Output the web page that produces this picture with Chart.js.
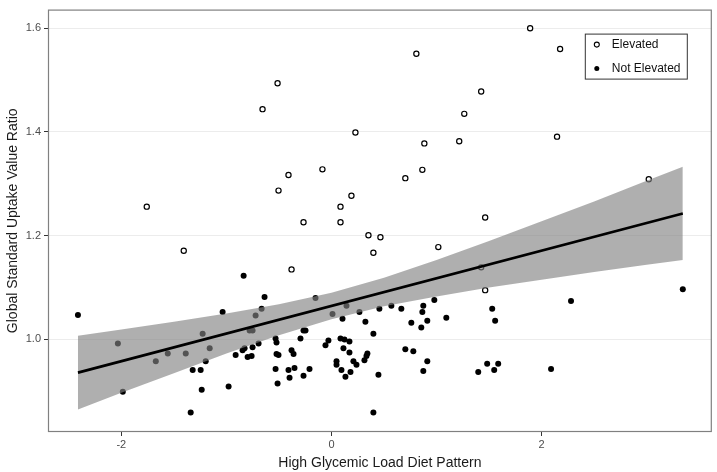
<!DOCTYPE html>
<html>
<head>
<meta charset="utf-8">
<script src="https://cdn.jsdelivr.net/npm/chart.js@4"></script>
<style>
  html, body { margin: 0; padding: 0; background: #fff; }
  #wrap { width: 717px; height: 472px; }
</style>
</head>
<body>
<div id="wrap"><canvas id="suvrChart"></canvas></div>
<script>
// Elevated SUVR (open circles)
var elevatedX = [-0.513, -0.656, 0.228, -0.409, -0.086, -0.504, 0.190, 0.086, -1.758, -0.266, 0.086,
    1.891, 2.176, 0.808, 1.425, 1.264, 0.884, 1.216, 2.147, 0.865, 0.703, 3.020, 1.463,
    0.352, 0.466, 0.399, 1.017, -1.406, -0.380, 1.425, 1.463];
var elevatedY = [1.494, 1.444, 1.399, 1.317, 1.328, 1.287, 1.277, 1.256, 1.256, 1.226, 1.226,
    1.600, 1.560, 1.551, 1.478, 1.435, 1.378, 1.382, 1.391, 1.327, 1.311, 1.309, 1.235,
    1.201, 1.197, 1.167, 1.178, 1.171, 1.135, 1.139, 1.095];

// Not elevated (filled circles)
var notElevatedX = [-2.413, -2.033, -1.986, -1.672, -1.558, -1.387, -1.226, -1.159, -1.197, -1.321,
    -1.245, -1.235, -1.340, -1.036, -0.979, -0.836, -0.637, -0.665, -0.722, -0.779,
    -0.751, -0.912, -0.846, -0.827, -0.798, -0.760, -0.751, -0.694, -0.532, -0.523,
    -0.523, -0.504, -0.532, -0.513, -0.409, -0.352, -0.399, -0.380, -0.361, -0.295,
    -0.266, -0.247, -0.266, -0.209, -0.152, -0.057, -0.029, 0.010, 0.143, 0.266,
    0.105, 0.086, 0.124, 0.171, 0.114, 0.171, 0.048, 0.048, 0.095, 0.181,
    0.133, 0.209, 0.238, 0.314, 0.333, 0.342, 0.323, 0.399, 0.456, 0.570,
    0.665, 0.447, 0.399, 0.703, 0.779, 0.760, 0.855, 0.912, 0.865, 0.874,
    0.979, 1.093, 0.912, 0.874, 1.530, 1.558, 2.280, 3.344, 1.482, 1.587,
    1.549, 1.397, 2.090];
var notElevatedY = [1.047, 0.992, 0.899, 0.958, 0.973, 0.973, 1.011, 0.983, 0.958, 0.941,
    0.941, 0.903, 0.859, 1.053, 0.909, 1.123, 1.082, 1.059, 1.046, 1.017,
    1.017, 0.970, 0.979, 0.983, 0.966, 0.968, 0.985, 0.992, 1.002, 0.994,
    0.972, 0.970, 0.943, 0.915, 0.941, 0.945, 0.926, 0.979, 0.972, 1.002,
    1.017, 1.017, 0.930, 0.943, 1.080, 0.989, 0.998, 1.049, 1.065, 1.053,
    1.040, 1.002, 1.000, 0.996, 0.983, 0.975, 0.958, 0.951, 0.941, 0.937,
    0.928, 0.958, 0.951, 0.960, 0.968, 0.973, 1.034, 1.011, 1.059, 1.065,
    1.059, 0.932, 0.859, 0.981, 0.977, 1.032, 1.023, 1.036, 1.053, 1.065,
    1.076, 1.042, 0.958, 0.939, 1.059, 1.036, 1.074, 1.097, 0.953, 0.953,
    0.941, 0.937, 0.943];

// fitted line and its confidence band
var fitX = [-2.413, 3.344];
var fitY = [0.936, 1.243];
var bandX = [-2.413, -2, -1.5, -1, -0.5, 0, 0.5, 1, 1.5, 2, 2.5, 3, 3.344];
var bandLow = [0.865, 0.897, 0.935, 0.973, 1.008, 1.039, 1.064, 1.083, 1.100, 1.115, 1.130, 1.144, 1.153];
var bandHigh = [1.007, 1.019, 1.034, 1.050, 1.068, 1.090, 1.119, 1.153, 1.190, 1.228, 1.266, 1.306, 1.333];

var xTicks = [-2, 0, 2];
var yTicks = [1.0, 1.2, 1.4, 1.6];

var legendItems = ["Elevated", "Not Elevated"];

function pts(xs, ys) {
    return xs.map(function(x, i) { return { x: x, y: ys[i] }; });
}

Chart.defaults.font.family = "'Liberation Sans', Arial, sans-serif";
Chart.defaults.color = "#4d4d4d";

// panel border + boxed legend in the top right corner
var panelPlugin = {
    id: "panel",
    afterDraw: function(chart) {
        var c = chart.ctx, a = chart.chartArea;
        c.save();
        c.strokeStyle = "#808080";
        c.lineWidth = 1.2;
        c.strokeRect(a.left + 0.5, a.top + 0.5, a.right - a.left - 1, a.bottom - a.top - 1);

        var bx = a.right - 127, by = a.top + 24, bw = 102, bh = 45;
        c.fillStyle = "#fff";
        c.fillRect(bx, by, bw, bh);
        c.strokeStyle = "#333";
        c.lineWidth = 1;
        c.strokeRect(bx + 0.5, by + 0.5, bw, bh);
        c.font = "12px 'Liberation Sans', Arial, sans-serif";
        c.textBaseline = "middle";
        legendItems.forEach(function(label, i) {
            var cy = by + 11 + i * 24;
            c.beginPath();
            c.arc(bx + 12, cy, 2.5, 0, Math.PI * 2);
            if (i === 0) {
                c.fillStyle = "#fff";
                c.fill();
                c.strokeStyle = "#000";
                c.lineWidth = 1.1;
                c.stroke();
            } else {
                c.fillStyle = "#000";
                c.fill();
            }
            c.fillStyle = "#111";
            c.fillText(label, bx + 27, cy);
        });
        c.restore();
    }
};

new Chart(document.getElementById("suvrChart"), {
    type: "scatter",
    data: {
        datasets: [{
            label: "fit",
            data: pts(fitX, fitY),
            showLine: true,
            borderColor: "#000",
            borderWidth: 2.6,
            pointRadius: 0,
            order: 0
        }, {
            label: "upper",
            data: pts(bandX, bandHigh),
            showLine: true,
            borderWidth: 0,
            borderColor: "rgba(0,0,0,0)",
            pointRadius: 0,
            fill: "+1",
            backgroundColor: "rgba(130,130,130,0.64)",
            order: 1
        }, {
            label: "lower",
            data: pts(bandX, bandLow),
            showLine: true,
            borderWidth: 0,
            borderColor: "rgba(0,0,0,0)",
            pointRadius: 0,
            order: 2
        }, {
            label: "Elevated",
            data: pts(elevatedX, elevatedY),
            pointRadius: 2.6,
            pointBorderWidth: 1.2,
            pointBackgroundColor: "#fff",
            pointBorderColor: "#000",
            order: 3
        }, {
            label: "Not Elevated",
            data: pts(notElevatedX, notElevatedY),
            pointRadius: 3,
            pointBorderWidth: 0,
            pointBackgroundColor: "#000",
            pointBorderColor: "#000",
            order: 4
        }]
    },
    options: {
        responsive: true,
        maintainAspectRatio: false,
        animation: false,
        layout: { padding: { top: 3, right: 4, left: 0, bottom: 0 } },
        plugins: {
            legend: { display: false },
            tooltip: { enabled: false }
        },
        scales: {
            x: {
                min: -2.698,
                max: 3.62,
                afterBuildTicks: function(s) { s.ticks = xTicks.map(function(v) { return { value: v }; }); },
                afterFit: function(s) { s.height = 40; },
                border: { display: false },
                grid: { drawOnChartArea: false, tickLength: 4, tickColor: "#333", tickWidth: 1 },
                ticks: { padding: 2, font: { size: 11 }, color: "#4d4d4d" },
                title: {
                    display: true,
                    text: "High Glycemic Load Diet Pattern",
                    font: { size: 14 },
                    color: "#1a1a1a",
                    padding: { top: 0, bottom: 0 }
                }
            },
            y: {
                min: 0.8215,
                max: 1.636,
                afterBuildTicks: function(s) { s.ticks = yTicks.map(function(v) { return { value: v }; }); },
                afterFit: function(s) { s.width = 48; },
                border: { display: false },
                grid: { color: "#ececec", lineWidth: 1, tickLength: 4, tickColor: "#333" },
                ticks: {
                    padding: 3,
                    font: { size: 11 },
                    color: "#4d4d4d",
                    callback: function(v) { return Number(v).toFixed(1); }
                },
                title: {
                    display: true,
                    text: "Global Standard Uptake Value Ratio",
                    font: { size: 14 },
                    color: "#1a1a1a",
                    padding: { top: 5, bottom: 2 }
                }
            }
        }
    },
    plugins: [panelPlugin]
});
</script>
</body>
</html>
